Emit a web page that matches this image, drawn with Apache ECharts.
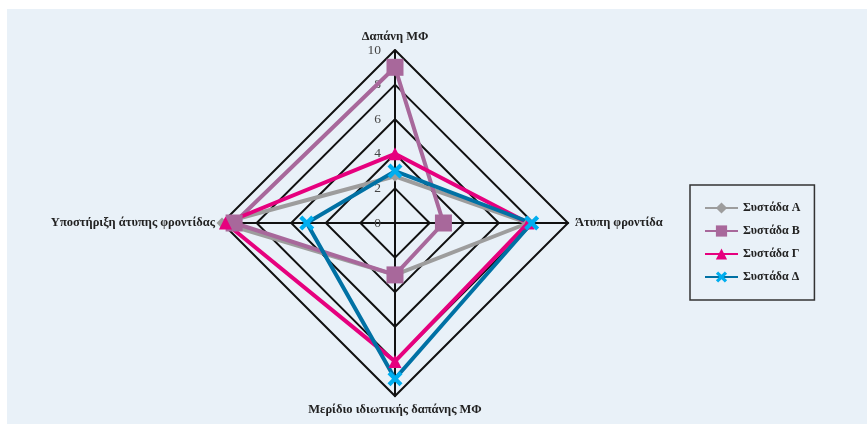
<!DOCTYPE html>
<html>
<head>
<meta charset="utf-8">
<script src="https://cdn.jsdelivr.net/npm/echarts@6/dist/echarts.min.js"></script>
<style>
  html, body { margin: 0; padding: 0; background: #fff; }
  #chart { position: absolute; left: 7px; top: 9px; width: 860px; height: 415px; background: #e9f1f8; }
</style>
</head>
<body>
<div id="chart"></div>
<script>
// axes in counter-clockwise order starting from the top
const axisNames = ['Δαπάνη ΜΦ', 'Υποστήριξη άτυπης φροντίδας', 'Μερίδιο ιδιωτικής δαπάνης ΜΦ', 'Άτυπη φροντίδα'];
const groupNames = ['Συστάδα Α', 'Συστάδα Β', 'Συστάδα Γ', 'Συστάδα Δ'];
const groupA = [2.7, 10, 3.0, 7.7];
const groupB = [9.0, 9.3, 3.0, 2.8];
const groupG = [4.0, 9.8, 8.0, 7.7];
const groupD = [3.0, 5.1, 9.0, 7.9];
const axisMax = 10;

const xMark = 'path://M2,0 L5,3 L8,0 L10,2 L7,5 L10,8 L8,10 L5,7 L2,10 L0,8 L3,5 L0,2 Z';
const looks = [
  { line: '#9d9d9d', mark: '#9d9d9d', symbol: 'diamond', size: 11 },
  { line: '#a8689b', mark: '#a8689b', symbol: 'rect', size: 17 },
  { line: '#e6007e', mark: '#e6007e', symbol: 'triangle', size: 13 },
  { line: '#0071a4', mark: '#00aeef', symbol: xMark, size: 15 }
];
const values = [groupA, groupB, groupG, groupD];

const chart = echarts.init(document.getElementById('chart'));
const serif = 'Liberation Serif';

chart.setOption({
  animation: false,
  legend: {
    orient: 'vertical',
    left: 683,
    top: 176,
    padding: [17, 14, 17, 14],
    itemWidth: 33,
    itemHeight: 14,
    itemGap: 11,
    borderColor: '#333',
    borderWidth: 1.5,
    selectedMode: false,
    textStyle: { fontFamily: serif, fontWeight: 'bold', fontSize: 12, color: '#222' },
    data: groupNames
  },
  grid: { show: false, left: 0, top: 0, width: 1, height: 1 },
  xAxis: { show: false, type: 'category', data: [] },
  yAxis: { show: false, type: 'value' },
  radar: {
    center: [388, 214],
    radius: 173,
    startAngle: 90,
    shape: 'polygon',
    splitNumber: 5,
    axisName: { fontFamily: serif, fontWeight: 'bold', fontSize: 12.5, color: '#222' },
    nameGap: 7,
    splitArea: { show: false },
    splitLine: { lineStyle: { color: '#111', width: 2 } },
    axisLine: { lineStyle: { color: '#111', width: 2 } },
    axisLabel: { show: false },
    indicator: axisNames.map((n, i) => {
      const ind = { name: n, max: axisMax, min: 0 };
      if (i === 0) {
        ind.axisLabel = {
          show: true, fontFamily: serif, fontSize: 13.5, color: '#444', margin: 6,
          align: 'right', verticalAlign: 'middle', padding: [15, 8, 0, 0]
        };
      }
      return ind;
    })
  },
  series: [
    {
      type: 'radar',
      z: 3,
      data: values.map((v, i) => ({
        name: groupNames[i],
        value: v,
        symbol: looks[i].symbol,
        symbolSize: looks[i].size,
        lineStyle: { color: looks[i].line, width: 4 },
        itemStyle: { color: looks[i].mark }
      }))
    }
  ].concat(groupNames.map((n, i) => ({
    // legend-only entries, so the legend shows line + marker like the original
    type: 'line',
    name: n,
    data: [],
    symbol: looks[i].symbol,
    lineStyle: { color: looks[i].line, width: 4 },
    itemStyle: { color: looks[i].mark }
  })))
});
</script>
</body>
</html>
